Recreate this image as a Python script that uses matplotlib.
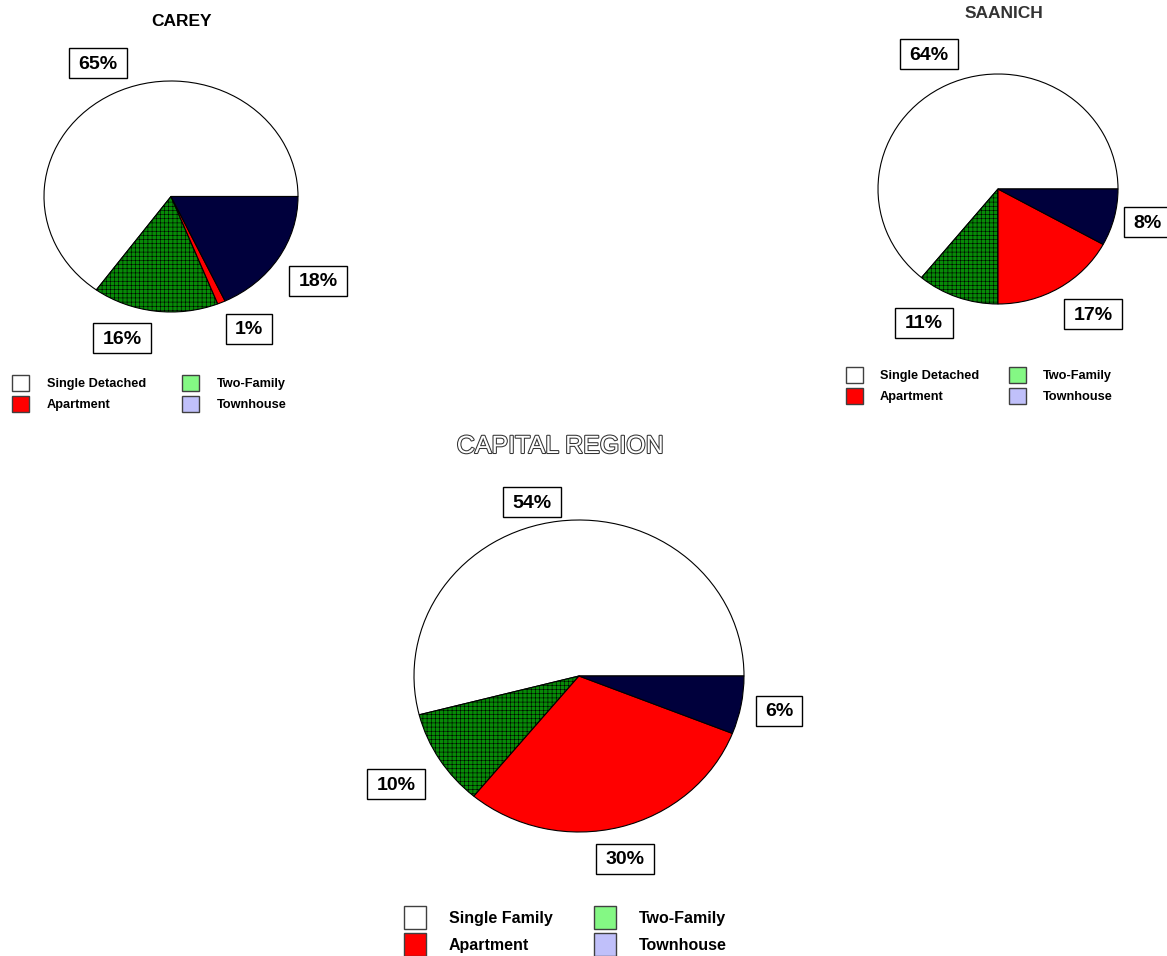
import matplotlib
matplotlib.use("Agg")
import matplotlib.pyplot as plt
import matplotlib.patheffects as pe
from matplotlib.patches import Patch, Rectangle

W, H = 1167, 956

plt.rcParams['font.family'] = ['Liberation Sans', 'DejaVu Sans']
plt.rcParams['hatch.linewidth'] = 0.4

# dados (ordem anti-horaria a partir das 3h)
categorias = ['Single Detached', 'Two-Family', 'Apartment', 'Townhouse']
categorias_capital = ['Single Family', 'Two-Family', 'Apartment', 'Townhouse']
carey = [65, 16, 1, 18]
saanich = [64, 11, 17, 8]
capital = [54, 10, 30, 6]

# estilo
cores = ['white', '#078a07', '#ff0000', '#00003c']
hachuras = [None, '++++', None, None]
cores_legenda = ['white', '#84f884', '#ff0000', '#c0c0fa']

# layout em pixels: caixa da elipse e posicao dos rotulos
caixa_carey = (44, 81, 298, 312)
caixa_saanich = (878, 74, 1118, 304)
caixa_capital = (414, 520, 744, 832)
rotulos_carey = [(98, 63), (122, 338), (249, 329), (318, 281)]
rotulos_saanich = [(929, 54), (924, 323), (1093, 314), (1147, 222)]
rotulos_capital = [(532, 502), (396, 784), (625, 859), (779, 711)]

fig = plt.figure(figsize=(W / 100, H / 100), dpi=100)

# eixo de sobreposicao em coordenadas de pixel
ov = fig.add_axes([0, 0, 1, 1], zorder=5)
ov.set_xlim(0, W)
ov.set_ylim(H, 0)
ov.axis('off')
ov.patch.set_alpha(0)


def pizza(valores, caixa):
    x0, y0, x1, y1 = caixa
    ax = fig.add_axes([x0 / W, 1 - y1 / H, (x1 - x0) / W, (y1 - y0) / H])
    fatias, _ = ax.pie(valores, colors=cores, hatch=hachuras, startangle=0,
                       counterclock=True, radius=1,
                       wedgeprops=dict(edgecolor='black', linewidth=0.8))
    for f in fatias:
        f.set_clip_on(False)
    ax.set_aspect('auto')
    ax.set_xlim(-1, 1)
    ax.set_ylim(-1, 1)
    ax.axis('off')


def rotulos(valores, posicoes, tam=14):
    for v, (x, y) in zip(valores, posicoes):
        txt = f"{v}%"
        w = 22 + 12 * len(txt)
        ov.add_patch(Rectangle((x - w / 2, y - 15), w, 30, fc='white',
                               ec='black', lw=1, clip_on=False))
        ov.text(x, y + 1, txt, ha='center', va='center', fontsize=tam,
                weight='bold')


def legenda(nomes, canto, fs, hl, hh, htp, ls, cs):
    ordem = [0, 2, 1, 3]
    alcas = [Patch(facecolor=cores_legenda[i], edgecolor='#404040',
                   label=nomes[i]) for i in ordem]
    fig.legend(handles=alcas, ncol=2, loc='upper left',
               bbox_to_anchor=(canto[0] / W, 1 - canto[1] / H),
               frameon=False, prop=dict(size=fs, weight='bold'),
               handlelength=hl, handleheight=hh, handletextpad=htp,
               labelspacing=ls, columnspacing=cs, borderpad=0,
               borderaxespad=0)


pizza(carey, caixa_carey)
pizza(saanich, caixa_saanich)
pizza(capital, caixa_capital)

rotulos(carey, rotulos_carey)
rotulos(saanich, rotulos_saanich)
rotulos(capital, rotulos_capital)

legenda(categorias, (12, 375), 9.2, 1.33, 1.55, 1.4, 0.39, 2.8)
legenda(categorias, (846, 367), 9.2, 1.33, 1.55, 1.33, 0.39, 2.35)
legenda(categorias_capital, (404, 906), 11.5, 1.375, 1.83, 1.44, 0.25, 2.6)

ov.text(181, 21, 'CAREY', ha='center', va='center', fontsize=12.5,
        weight='bold')
ov.text(1004, 13, 'SAANICH', ha='center', va='center', fontsize=12.5,
        weight='bold', color='#333333')
ov.text(560, 446, 'CAPITAL REGION', ha='center', va='center', fontsize=18,
        color='white',
        path_effects=[pe.withStroke(linewidth=1.5, foreground='#333333')])

fig.savefig('out.png', dpi=100)
